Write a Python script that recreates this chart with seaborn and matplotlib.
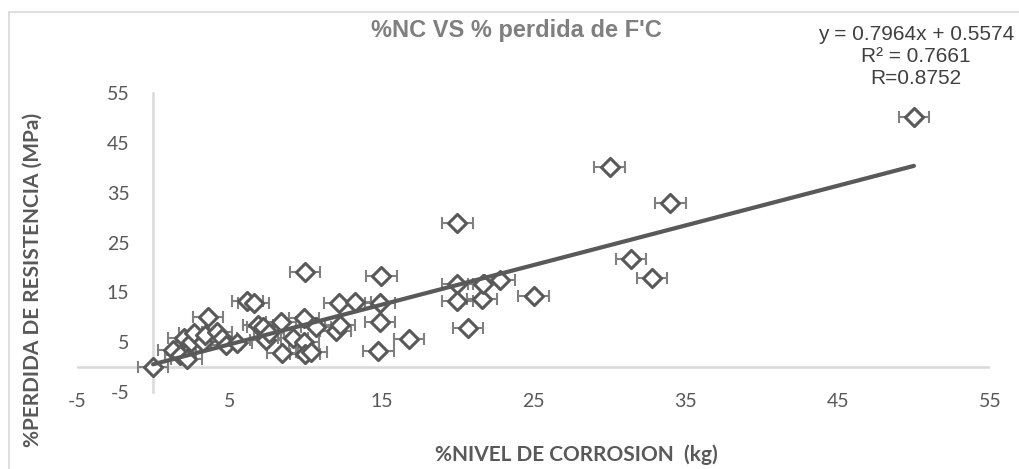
import numpy as np
import pandas as pd
import matplotlib
matplotlib.use("Agg")
import matplotlib.pyplot as plt
import seaborn as sns
from matplotlib.lines import Line2D

# datos
nivel_corrosion = [0.0, 1.3, 1.8, 2.2, 2.0, 2.5, 2.7, 3.3, 3.4, 3.6, 4.2, 4.5, 4.8, 5.5,
                   6.2, 6.6, 6.9, 7.2, 7.4, 7.6, 8.4, 8.5, 9.2, 9.9, 9.9, 10.0, 10.4,
                   10.0, 10.7, 12.0, 12.3, 12.2, 13.3, 14.9, 14.9, 14.8, 15.0, 16.8,
                   20.0, 20.0, 20.0, 20.7, 21.6, 21.7, 22.8, 25.0, 30.0, 31.4, 32.8,
                   34.0, 50.0]
perdida_resistencia = [0.0, 3.4, 2.4, 1.7, 5.8, 5.1, 6.8, 5.1, 6.4, 10.1, 7.1, 5.8, 4.4, 4.8,
                       13.3, 12.8, 8.4, 8.1, 5.4, 6.8, 9.1, 2.9, 5.8, 9.8, 5.1, 2.7, 3.1,
                       19.0, 8.1, 7.2, 8.4, 12.9, 13.0, 12.9, 9.0, 3.3, 18.3, 5.7,
                       29.0, 16.7, 13.3, 7.8, 13.6, 16.6, 17.4, 14.3, 40.2, 21.7, 17.9,
                       32.9, 50.2]
error_x = 1.0

# tendencia lineal (Excel)
pendiente = 0.7964
intercepto = 0.5574
texto_ecuacion = "y = 0.7964x + 0.5574\nR² = 0.7661\nR=0.8752"

ticks = [-5, 5, 15, 25, 35, 45, 55]

df = pd.DataFrame({'nc': nivel_corrosion, 'perdida': perdida_resistencia})

sns.set_theme(style='white')
plt.rcParams['font.family'] = ['Lato', 'DejaVu Sans']
plt.rcParams['axes.unicode_minus'] = False

gris_osc = '#595959'
gris_eje = '#d9d9d9'

fig = plt.figure(figsize=(10.19, 4.69), dpi=100)
ax = fig.add_axes([77/1019, 1 - 392/469, (990 - 77)/1019, (392 - 93)/469])

ax.errorbar(df['nc'], df['perdida'], xerr=error_x, fmt='none', ecolor='#808080',
            elinewidth=1.5, capsize=4.5, capthick=1.5, zorder=2)
sns.scatterplot(data=df, x='nc', y='perdida', marker='D', s=85, facecolor='white',
                edgecolor=gris_osc, linewidth=2.2, ax=ax, zorder=3)

xs = np.array([min(nivel_corrosion), max(nivel_corrosion)])
ax.plot(xs, pendiente * xs + intercepto, color=gris_osc, lw=3, zorder=4)

ax.set_xlim(-5, 55)
ax.set_ylim(-5, 55)
ax.set_xticks(ticks)
ax.set_yticks(ticks)
ax.axhline(0, color=gris_eje, lw=1.8, zorder=1)
for s in ['top', 'right', 'bottom']:
    ax.spines[s].set_visible(False)
ax.spines['left'].set_position(('data', 0))
ax.spines['left'].set_color(gris_eje)
ax.spines['left'].set_linewidth(1.8)
ax.spines['left'].set_zorder(1)
ax.tick_params(axis='both', length=0, labelsize=14, labelcolor=gris_osc)
ax.tick_params(axis='x', pad=1)
ax.tick_params(axis='y', pad=17)
ax.set_xlabel('')
ax.set_ylabel('')

fig.text(516/1019, 1 - 30/469, "%NC VS % perdida de F'C", ha='center', va='center',
         fontsize=17, fontweight='bold', color='#7f7f7f', family='Liberation Sans')
fig.text(916/1019, 1 - 56/469, texto_ecuacion, ha='center', va='center',
         multialignment='center', fontsize=15, color='#404040',
         family='Liberation Sans', linespacing=1.2)
fig.text(576/1019, 1 - 455/469, '%NIVEL DE CORROSION  (kg)', ha='center', va='center',
         fontsize=15, fontweight='bold', color=gris_osc)
fig.text(33/1019, 1 - 280/469, '%PERDIDA DE RESISTENCIA (MPa)', ha='center', va='center',
         rotation=90, fontsize=15, fontweight='bold', color=gris_osc)

# borde del area del grafico
fig.add_artist(Line2D([9/1019, 1], [1 - 12/469, 1 - 12/469], color=gris_eje, lw=1.2))
fig.add_artist(Line2D([9/1019, 9/1019], [0, 1 - 12/469], color=gris_eje, lw=1.2))

fig.savefig('out.png', dpi=100)
